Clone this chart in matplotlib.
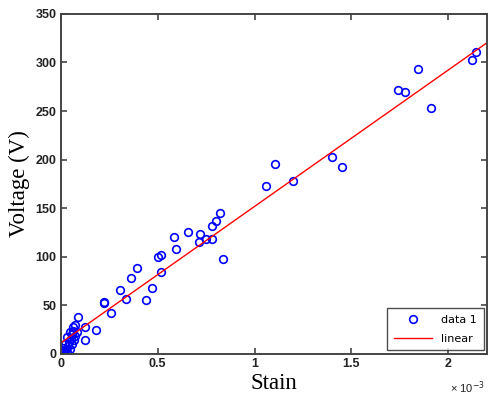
import numpy as np
import matplotlib.pyplot as plt

# Strain (x 1e-3) and measured voltage
strain_e3 = np.array([
    2.143, 2.122, 1.844, 1.739, 1.775, 1.911, 1.400, 1.452, 1.103, 1.058,
    1.199, 0.823, 0.799, 0.778, 0.658, 0.720, 0.584, 0.711, 0.747, 0.782,
    0.593, 0.502, 0.519, 0.839, 0.515, 0.393, 0.364, 0.469, 0.306, 0.335,
    0.438, 0.223, 0.220, 0.258, 0.180, 0.124, 0.127, 0.089, 0.072,
    0.065, 0.058, 0.075, 0.050, 0.045, 0.040, 0.035, 0.030, 0.025, 0.020,
    0.015, 0.010, 0.008, 0.055, 0.068, 0.085, 0.060, 0.030, 0.045,
])
voltage = np.array([
    311, 303, 293, 272, 270, 253, 203, 192, 195, 173,
    178, 145, 137, 132, 125, 123, 120, 115, 118, 118,
    108, 100, 102, 98, 84, 88, 78, 68, 66, 56,
    55, 53, 52, 42, 25, 28, 14, 38, 30,
    24, 20, 18, 15, 22, 12, 8, 17, 5, 10,
    3, 6, 1, 10, 14, 22, 28, 2, 5,
])

# linear fit as shown on the chart
fit_intercept = 11.3
fit_slope = 140500.0

strain = strain_e3 * 1e-3

fig = plt.figure(figsize=(4.91, 3.98), dpi=100)
ax = fig.add_axes([0.124, 0.111, 0.868, 0.854])

ax.plot(strain, voltage, 'o', markerfacecolor='none', markeredgecolor='#0000ff',
        markersize=5.5, markeredgewidth=1.2, label='data 1')
x_fit = np.linspace(0, 2.2e-3, 50)
ax.plot(x_fit, fit_intercept + fit_slope * x_fit, color='#ff0000',
        linewidth=1.0, label='linear')

ax.set_xlim(0, 2.2e-3)
ax.set_ylim(0, 350)
ax.set_xticks([0, 0.5e-3, 1e-3, 1.5e-3, 2e-3])
ax.set_xticklabels(['0', '0.5', '1', '1.5', '2'])
ax.set_yticks(np.arange(0, 351, 50))

for sp in ax.spines.values():
    sp.set_color('#444444')
    sp.set_linewidth(1.4)
ax.tick_params(direction='in', top=True, right=True, length=4, width=1.2,
               color='#444444', labelsize=9, pad=3)
for lbl in ax.get_xticklabels() + ax.get_yticklabels():
    lbl.set_family('Liberation Sans')
    lbl.set_fontweight('bold')
    lbl.set_color('#222222')

ax.set_xlabel('Stain', family='Liberation Serif', fontsize=16.5, labelpad=2)
ax.set_ylabel('Voltage (V)', family='Liberation Serif', fontsize=16.5, labelpad=4)

ax.text(0.995, -0.075, '× 10$^{-3}$', transform=ax.transAxes, ha='right',
        va='top', fontsize=8, family='Liberation Sans', color='#222222')

leg = ax.legend(loc='lower right', fontsize=8, frameon=True, fancybox=False,
                edgecolor='#222222', borderaxespad=0.3, handlelength=3.5,
                borderpad=0.6, labelspacing=0.8)
leg.get_frame().set_linewidth(1.0)

fig.savefig('out.png', dpi=100)
